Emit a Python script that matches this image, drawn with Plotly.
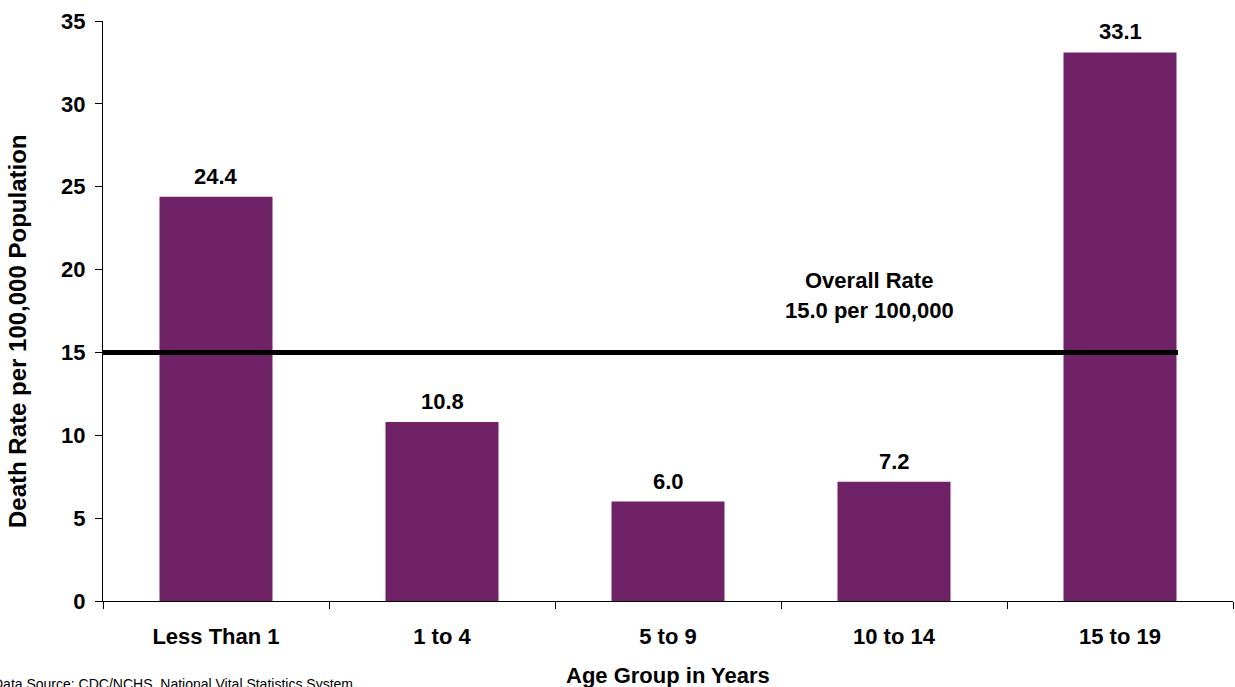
import plotly.graph_objects as go

# Death rates by age group (per 100,000 population)
age_groups = ["Less Than 1", "1 to 4", "5 to 9", "10 to 14", "15 to 19"]
death_rates = [24.4, 10.8, 6.0, 7.2, 33.1]
overall_rate = 15.0
y_ticks = [0, 5, 10, 15, 20, 25, 30, 35]

W, H = 1235, 687
L, R, T, B = 103, 2, 21, 86
plot_w = W - L - R
plot_h = H - T - B

BAR_COLOR = "#6F2366"
FONT = "Liberation Sans, Arial, sans-serif"
LABEL_SIZE = 22

fig = go.Figure()
fig.add_trace(go.Bar(
    x=age_groups,
    y=death_rates,
    marker=dict(color=BAR_COLOR, line=dict(width=0)),
    width=0.5,
    hoverinfo="x+y",
))

annotations = []
# value labels above each bar
for g, v in zip(age_groups, death_rates):
    annotations.append(dict(
        x=g, y=v, xref="x", yref="y", text=f"<b>{v:.1f}</b>",
        showarrow=False, yanchor="bottom", yshift=6,
        font=dict(family=FONT, size=LABEL_SIZE, color="black"),
    ))

# overall rate label
annotations.append(dict(
    x=(869 - L) / plot_w, xref="paper", y=overall_rate + 4.37, yref="y",
    text="<b>Overall Rate</b>", showarrow=False,
    xanchor="center", yanchor="middle",
    font=dict(family=FONT, size=LABEL_SIZE, color="black"),
))
annotations.append(dict(
    x=(869 - L) / plot_w, xref="paper", y=overall_rate + 2.56, yref="y",
    text=f"<b>{overall_rate:.1f} per 100,000</b>", showarrow=False,
    xanchor="center", yanchor="middle",
    font=dict(family=FONT, size=LABEL_SIZE, color="black"),
))

# axis titles
annotations.append(dict(
    x=(17 - L) / plot_w, xref="paper", y=(601 - 332) / plot_h, yref="paper",
    text="<b>Death Rate per 100,000 Population</b>", textangle=-90,
    xanchor="center", yanchor="middle",
    showarrow=False, font=dict(family=FONT, size=24, color="black"),
))
annotations.append(dict(
    x=0.5, xref="paper", y=(601 - 675) / plot_h, yref="paper",
    text="<b>Age Group in Years</b>", showarrow=False,
    xanchor="center", yanchor="middle",
    font=dict(family=FONT, size=LABEL_SIZE, color="black"),
))

# data source note
annotations.append(dict(
    x=(-9 - L) / plot_w, xref="paper", y=(601 - 674) / plot_h, yref="paper",
    text="Data Source: CDC/NCHS, National Vital Statistics System",
    showarrow=False, xanchor="left", yanchor="top",
    font=dict(family=FONT, size=14, color="black"),
))

fig.update_layout(
    width=W, height=H,
    margin=dict(l=L, r=R, t=T, b=B, pad=0),
    paper_bgcolor="white", plot_bgcolor="white",
    showlegend=False,
    bargap=0.5,
    annotations=annotations,
    shapes=[dict(
        type="line", xref="paper", yref="y",
        x0=0, x1=(1178 - L) / plot_w, y0=overall_rate, y1=overall_rate,
        line=dict(color="black", width=5),
    )],
    xaxis=dict(
        type="category",
        range=[-0.5, len(age_groups) - 0.5],
        showline=True, linecolor="black", linewidth=1,
        ticks="outside", ticklen=7, tickcolor="black", tickwidth=1,
        tickson="boundaries",
        ticklabelstandoff=16,
        tickfont=dict(family=FONT, size=LABEL_SIZE, color="black", weight="bold"),
        showgrid=False, zeroline=False,
    ),
    yaxis=dict(
        range=[0, 35],
        tickvals=y_ticks,
        showline=True, linecolor="black", linewidth=1,
        ticks="outside", ticklen=7, tickcolor="black", tickwidth=1,
        ticklabelstandoff=5,
        tickfont=dict(family=FONT, size=LABEL_SIZE, color="black", weight="bold"),
        showgrid=False, zeroline=False,
    ),
)

fig.write_html("out.html")
